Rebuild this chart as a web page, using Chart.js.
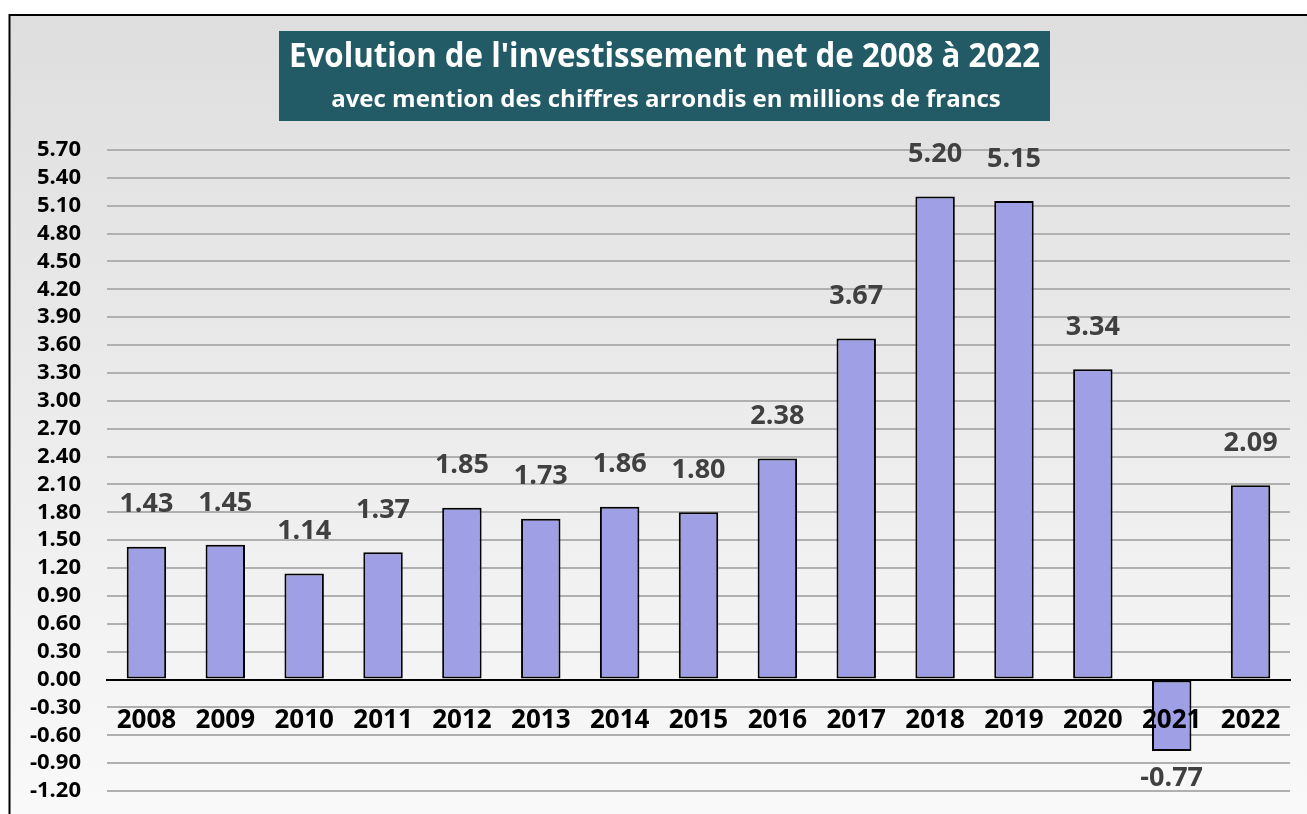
<!DOCTYPE html>
<html>
<head>
<meta charset="utf-8">
<script src="https://cdn.jsdelivr.net/npm/chart.js@4.4.1/dist/chart.umd.min.js"></script>
<style>
  html, body { margin: 0; padding: 0; background: #fff; }
</style>
</head>
<body>
<canvas id="investChart" width="1307" height="814"></canvas>
<script>
const years = ["2008", "2009", "2010", "2011", "2012", "2013", "2014", "2015",
  "2016", "2017", "2018", "2019", "2020", "2021", "2022"];
const netInvest = [1.43, 1.45, 1.14, 1.37, 1.85, 1.73, 1.86, 1.80,
  2.38, 3.67, 5.20, 5.15, 3.34, -0.77, 2.09];
const yMin = -1.2;
const yMax = 5.7;
const yStep = 0.3;
const titleText = "Evolution de l'investissement net de 2008 à 2022";
const subtitleText = "avec mention des chiffres arrondis en millions de francs";

const FONT = "'Open Sans', 'DejaVu Sans', sans-serif";

// draw text squeezed horizontally if it's wider than maxW (Calibri is narrow)
function fitText(ctx, text, x, y, maxW, size) {
  ctx.font = "bold " + size + "px " + FONT;
  const w = ctx.measureText(text).width;
  const sx = Math.min(1, maxW / w);
  ctx.save();
  ctx.translate(x, y);
  ctx.scale(sx, 1);
  ctx.fillText(text, 0, 0);
  ctx.restore();
}

const frame = {
  id: "frame",
  beforeDraw(chart) {
    const { ctx, width, height } = chart;
    ctx.save();
    ctx.fillStyle = "#fff";
    ctx.fillRect(0, 0, width, height);
    const g = ctx.createLinearGradient(0, 15, 0, height);
    g.addColorStop(0, "#dedede");
    g.addColorStop(1, "#f9f9f9");
    ctx.fillStyle = g;
    ctx.fillRect(10, 15, width - 10, height - 15);
    ctx.strokeStyle = "#000";
    ctx.lineWidth = 2;
    ctx.beginPath();
    ctx.moveTo(9.5, height);
    ctx.lineTo(9.5, 15);
    ctx.lineTo(width, 15);
    ctx.stroke();

    ctx.fillStyle = "#225a66";
    ctx.fillRect(279, 31, 771, 90);
    ctx.fillStyle = "#fff";
    ctx.textAlign = "center";
    ctx.textBaseline = "middle";
    fitText(ctx, titleText, 664.5, 57, 751, 34);
    fitText(ctx, subtitleText, 666, 100, 673, 24);
    ctx.restore();
  }
};

const valueLabels = {
  id: "valueLabels",
  afterDatasetsDraw(chart) {
    const { ctx } = chart;
    const meta = chart.getDatasetMeta(0);
    ctx.save();
    ctx.font = "bold 27px " + FONT;
    ctx.fillStyle = "#404040";
    ctx.textAlign = "center";
    ctx.textBaseline = "middle";
    meta.data.forEach(function (bar, i) {
      const v = netInvest[i];
      const y = v >= 0 ? bar.y - 42 : bar.y + 27;
      ctx.fillText(v.toFixed(2), bar.x, y);
    });
    ctx.restore();
  }
};

const ctx = document.getElementById("investChart").getContext("2d");
const investChart = new Chart(ctx, {
  type: "bar",
  data: {
    labels: years,
    datasets: [
      {
        label: "Investissement net",
        data: netInvest,
        backgroundColor: "#9f9fe6",
        borderColor: "#000",
        borderWidth: 2,
        borderSkipped: false,
        barPercentage: 0.5,
        categoryPercentage: 1,
      },
    ],
  },
  options: {
    responsive: false,
    animation: false,
    layout: { padding: { left: 27, right: 17, top: 150, bottom: 23 } },
    plugins: {
      legend: { display: false },
      tooltip: { enabled: false },
      title: { display: false },
    },
    scales: {
      x: {
        position: { y: 0 },
        grid: { display: false },
        border: { display: true, color: "#000", width: 2, z: 1 },
        ticks: {
          z: 1,
          color: "#000",
          padding: 17,
          maxRotation: 0,
          autoSkip: false,
          font: { family: FONT, size: 26, weight: "bold" },
        },
      },
      y: {
        min: yMin,
        max: yMax,
        afterFit: function (scale) {
          scale.width = 80;
          // tick padding is only meant to push labels left, not shrink the plot
          scale.paddingTop = 14;
          scale.paddingBottom = 14;
        },
        border: { display: false },
        grid: { color: "#b0b0b0", lineWidth: 2, drawTicks: false },
        ticks: {
          stepSize: yStep,
          autoSkip: false,
          padding: 26,
          color: "#000",
          font: { family: FONT, size: 22, weight: "bold" },
          callback: function (v) {
            return Number(v).toFixed(2);
          },
        },
      },
    },
  },
  plugins: [frame, valueLabels],
});
</script>
</body>
</html>
